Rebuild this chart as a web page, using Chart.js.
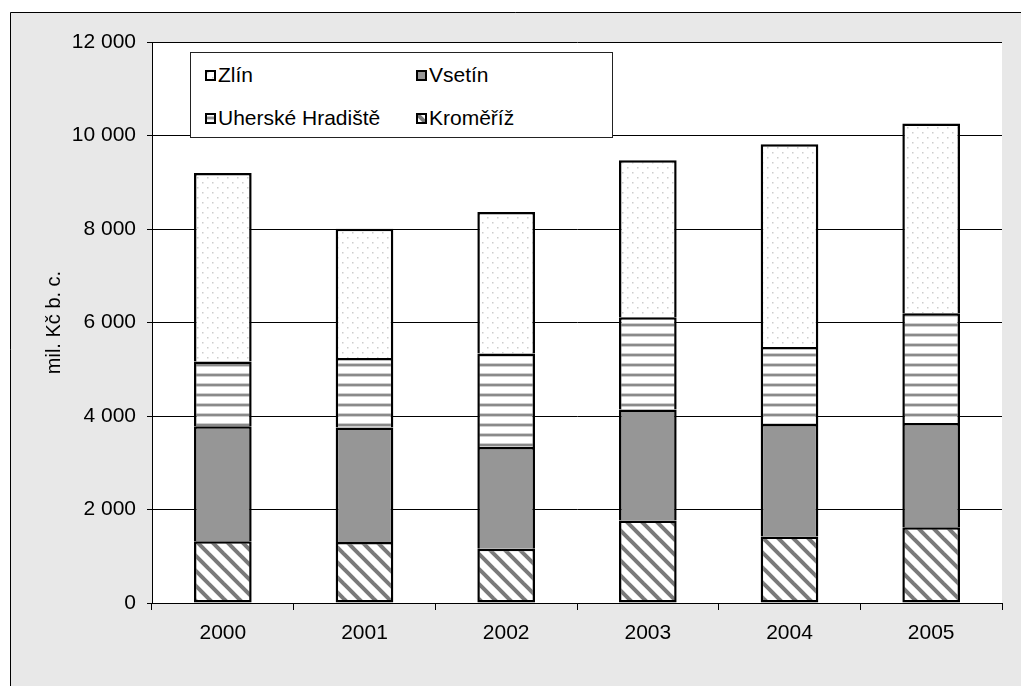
<!DOCTYPE html>
<html>
<head>
<meta charset="utf-8">
<script src="https://cdn.jsdelivr.net/npm/chart.js@4.4.0/dist/chart.umd.min.js"></script>
<style>
  html, body { margin: 0; padding: 0; background: #fff; }
  #wrap { position: relative; width: 1021px; height: 686px; overflow: hidden; }
  #graf { position: absolute; left: 0; top: 0; }
  #legenda {
    position: absolute; left: 190px; top: 52px; width: 421px; height: 84px;
    background: #fff; border: 1px solid #222;
    font-family: "Liberation Sans", Arial, sans-serif; font-size: 21px; color: #000;
  }
  .polozka { position: absolute; height: 24px; line-height: 24px; white-space: nowrap; }
  .polozka canvas { position: absolute; left: 0; top: 7px; }
  .polozka span { position: absolute; left: 13px; top: 0; }
</style>
</head>
<body>
<div id="wrap">
  <canvas id="graf" width="1021" height="686"></canvas>
  <div id="legenda"></div>
</div>
<script>
// Data - mil. Kč b. c.
const roky = ["2000", "2001", "2002", "2003", "2004", "2005"];
const kromeriz = [1320, 1305, 1163, 1763, 1420, 1619];
const vsetin = [2460, 2447, 2174, 2374, 2409, 2231];
const uherskeHradiste = [1384, 1489, 1998, 1975, 1647, 2347];
const zlin = [4034, 2767, 3029, 3360, 4336, 4058];
const osaY = [0, 2000, 4000, 6000, 8000, 10000, 12000];

const FONT = "'Liberation Sans', Arial, sans-serif";

// vzory výplní
function vzor(w, h, kresli) {
    const c = document.createElement("canvas");
    c.width = w; c.height = h;
    const g = c.getContext("2d");
    g.fillStyle = "#fff";
    g.fillRect(0, 0, w, h);
    kresli(g, w, h);
    return c;
}

const vzorTecky = vzor(10, 10, g => {
    g.fillStyle = "#cccccc";
    g.fillRect(2, 2, 1.5, 1.5);
    g.fillRect(7, 7, 1.5, 1.5);
});
const vzorPruhy = vzor(10, 10, g => {
    g.fillStyle = "#cfcfcf";
    g.fillRect(0, 3, 10, 1);
    g.fillRect(0, 6, 10, 1);
    g.fillStyle = "#8a8a8a";
    g.fillRect(0, 4, 10, 2);
});
const vzorSikme = vzor(15, 15, g => {
    g.strokeStyle = "#7a7a7a";
    g.lineWidth = 4;
    [[0, 0], [-15, 0], [0, -15]].forEach(([dx, dy]) => {
        g.beginPath();
        g.moveTo(dx - 2, dy - 2);
        g.lineTo(dx + 17, dy + 17);
        g.stroke();
    });
});

const ctx = document.getElementById("graf").getContext("2d");
const vyplnZlin = ctx.createPattern(vzorTecky, "repeat");
const vyplnUH = ctx.createPattern(vzorPruhy, "repeat");
const vyplnKrom = ctx.createPattern(vzorSikme, "repeat");

function formatTisice(v) {
    return String(v).replace(/\B(?=(\d{3})+(?!\d))/g, " ");
}

// pozadí grafu (šedý rámeček a bílá plocha)
const pozadi = {
    id: "pozadi",
    beforeDraw(chart) {
        const c = chart.ctx;
        const a = chart.chartArea;
        c.save();
        c.fillStyle = "#fff";
        c.fillRect(0, 0, chart.width, chart.height);
        c.fillStyle = "#e8e8e8";
        c.fillRect(10, 12, chart.width, chart.height);
        c.strokeStyle = "#000";
        c.lineWidth = 1;
        c.beginPath();
        c.moveTo(10.5, chart.height);
        c.lineTo(10.5, 12.5);
        c.lineTo(chart.width, 12.5);
        c.stroke();
        c.fillStyle = "#fff";
        c.fillRect(a.left, a.top, a.right - a.left, a.bottom - a.top);
        c.restore();
    }
};

const spolecne = {
    borderColor: "#000",
    borderWidth: 2.5,
    barPercentage: 0.407,
    categoryPercentage: 1
};

const datasets = [
    { label: "Kroměříž", data: kromeriz, backgroundColor: vyplnKrom, borderSkipped: false, ...spolecne },
    { label: "Vsetín", data: vsetin, backgroundColor: "#969696", ...spolecne },
    { label: "Uherské Hradiště", data: uherskeHradiste, backgroundColor: vyplnUH, ...spolecne },
    { label: "Zlín", data: zlin, backgroundColor: vyplnZlin, ...spolecne }
];

new Chart(ctx, {
    type: "bar",
    data: { labels: roky, datasets: datasets },
    plugins: [pozadi],
    options: {
        responsive: false,
        animation: false,
        devicePixelRatio: 1,
        layout: { padding: { left: 0, right: 19, top: 42, bottom: 0 } },
        plugins: { legend: { display: false }, tooltip: { enabled: false } },
        scales: {
            x: {
                stacked: true,
                afterFit: s => { s.height = 83; },
                grid: { offset: true, drawOnChartArea: false, color: "#000", tickLength: 7 },
                border: { color: "#000", width: 1 },
                ticks: { color: "#000", padding: 11, font: { family: FONT, size: 21 } }
            },
            y: {
                stacked: true,
                min: 0,
                max: 12000,
                afterFit: s => { s.width = 152; },
                afterBuildTicks: s => { s.ticks = osaY.map(v => ({ value: v })); },
                grid: { color: "#000", lineWidth: 1, tickLength: 5 },
                border: { color: "#000", width: 1 },
                ticks: {
                    color: "#000",
                    padding: 11,
                    font: { family: FONT, size: 21 },
                    callback: v => formatTisice(v)
                },
                title: {
                    display: true,
                    text: "mil. Kč b. c.",
                    color: "#000",
                    font: { family: FONT, size: 20 },
                    padding: { top: 42, bottom: 0 }
                }
            }
        }
    }
});

// legenda (pořadí jako v originále)
const legendaPolozky = [
    { text: "Zlín", fill: vzorTecky, x: 14, y: 10 },
    { text: "Vsetín", fill: "#969696", x: 225, y: 10 },
    { text: "Uherské Hradiště", fill: vzorPruhy, x: 14, y: 53 },
    { text: "Kroměříž", fill: vzorSikme, x: 225, y: 53 }
];
const legenda = document.getElementById("legenda");
legendaPolozky.forEach(p => {
    const d = document.createElement("div");
    d.className = "polozka";
    d.style.left = p.x + "px";
    d.style.top = p.y + "px";
    const ik = document.createElement("canvas");
    ik.width = 11; ik.height = 11;
    const g = ik.getContext("2d");
    g.fillStyle = typeof p.fill === "string" ? p.fill : g.createPattern(p.fill, "repeat");
    g.fillRect(0, 0, 11, 11);
    g.strokeStyle = "#000";
    g.lineWidth = 2;
    g.strokeRect(1, 1, 9, 9);
    const s = document.createElement("span");
    s.textContent = p.text;
    d.appendChild(ik);
    d.appendChild(s);
    legenda.appendChild(d);
});
</script>
</body>
</html>
